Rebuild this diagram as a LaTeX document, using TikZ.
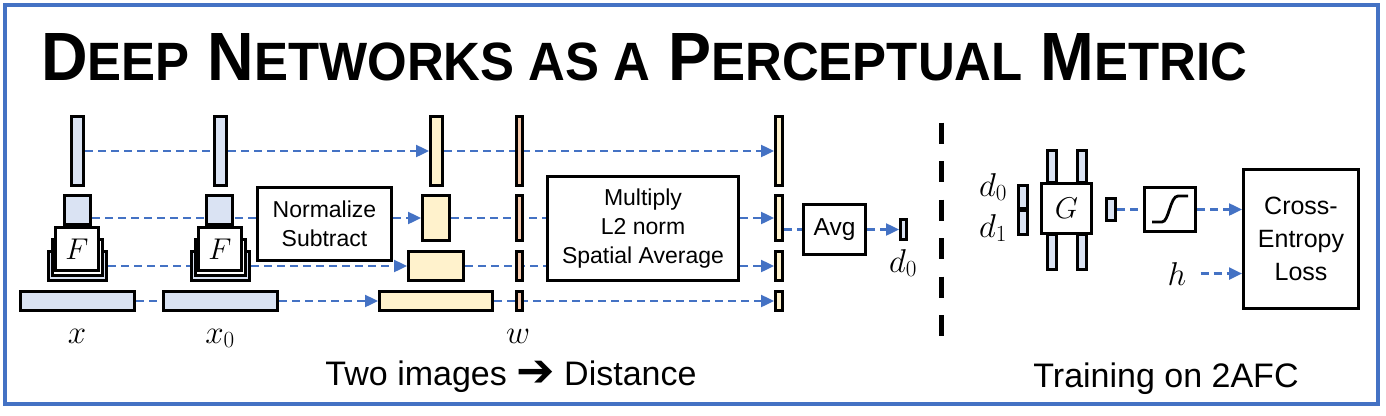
\RequirePackage{fix-cm}
\documentclass[tikz,border=0pt]{standalone}
\usepackage{graphicx}
\usepackage{fontspec}
\setmainfont{Liberation Sans}
\newfontfamily\dejavu{DejaVu Sans}
\usetikzlibrary{arrows.meta}
\pgfdeclarelayer{bg}
\pgfsetlayers{bg,main}
\definecolor{lblue}{HTML}{DAE3F3}
\definecolor{lyel}{HTML}{FFF2CC}
\definecolor{salmon}{HTML}{F8CBAD}
\definecolor{lineblue}{HTML}{4472C4}
\newcommand\mkbox[7]{\node[#6, minimum width={#4-#2-2.6}, minimum height={#5-#3-2.6}] (#1) at ({(#2+#4)/2},{(#3+#5)/2}) {#7};}
\newcommand\tsc[1]{{\fontsize{47.4}{48}\selectfont #1}}
\tikzset{
  blkbox/.style={draw=black, line width=2.6pt, inner sep=0pt},
  fb/.style={blkbox, fill=lblue},
  fy/.style={blkbox, fill=lyel},
  fs/.style={blkbox, fill=salmon},
  fw/.style={blkbox, fill=white},
  conn/.style={draw=lineblue, line width=2.4pt, dash pattern=on 8pt off 5pt},
  arr/.style={conn, -{Triangle[length=13pt,width=12pt]}},
  mlab/.style={font=\fontsize{33}{33}\selectfont, inner sep=0pt, anchor=base},
  boxtxt/.style={font=\fontsize{23}{28.5}\selectfont, align=center},
  captxt/.style={font=\fontsize{34}{38}\selectfont, inner sep=0pt, anchor=base},
}
\begin{document}
\begin{tikzpicture}[x=1pt,y=-1pt]
\useasboundingbox (0,0) rectangle (1386,415);
\draw[lineblue, line width=4pt] (4.5,4.5) rectangle (1378,404);
% title
\node[anchor=base west, inner sep=0pt] (title) at (41,80) {\resizebox{1206pt}{47pt}{\bfseries\fontsize{60}{60}\selectfont D\tsc{EEP} N\tsc{ETWORKS AS A} P\tsc{ERCEPTUAL} M\tsc{ETRIC}}};
% x column
\mkbox{xa}{70}{115}{85}{187}{fb}{}
\mkbox{xb}{63}{194}{92}{226}{fb}{}
\mkbox{xc}{47}{250}{108}{282}{fb}{}
\mkbox{xcm}{51}{238}{104}{277}{fw}{}
\mkbox{xF}{54}{226}{100}{272}{fw, font=\fontsize{30}{30}\selectfont}{$F$}
\mkbox{xd}{19}{290}{136}{312}{fb}{}
% x0 column
\mkbox{ya}{213}{115}{228}{187}{fb}{}
\mkbox{yb}{205}{194}{234}{226}{fb}{}
\mkbox{yc}{190}{250}{251}{282}{fb}{}
\mkbox{ycm}{194}{238}{247}{277}{fw}{}
\mkbox{yF}{197}{226}{243}{272}{fw, font=\fontsize{30}{30}\selectfont}{$F$}
\mkbox{yd}{162}{290}{279}{312}{fb}{}
% normalize
\mkbox{norm}{256}{186}{393}{262}{fw, boxtxt}{Normalize\\Subtract}
% features
\mkbox{f1}{429}{115}{444}{187}{fy}{}
\mkbox{f2}{421}{194}{451}{242}{fy}{}
\mkbox{f3}{407}{250}{465}{282}{fy}{}
\mkbox{f4}{378}{290}{494}{312}{fy}{}
% weights
\mkbox{w1}{515}{115}{524}{187}{fs}{}
\mkbox{w2}{515}{194}{524}{242}{fs}{}
\mkbox{w3}{515}{250}{524}{282}{fs}{}
\mkbox{w4}{515}{290}{524}{312}{fs}{}
% multiply
\mkbox{mult}{546}{175}{740}{282}{fw, font=\fontsize{23}{29}\selectfont, align=center}{Multiply\\L2 norm\\Spatial Average}
% results
\mkbox{r1}{774}{115}{784}{187}{fy}{}
\mkbox{r2}{774}{194}{784}{242}{fy}{}
\mkbox{r3}{774}{250}{784}{282}{fy}{}
\mkbox{r4}{774}{290}{784}{312}{fy}{}
\mkbox{avg}{802}{203}{867}{256}{fw, font=\fontsize{24.5}{28}\selectfont}{Avg}
\mkbox{dout}{899}{218}{908}{241}{fb}{}
% labels
\node[mlab] (lx) at (77,343) {$x$};
\node[mlab] (lx0) at (220,343) {$x_0$};
\node[mlab] (lw) at (518,343) {$w$};
\node[mlab] (ld) at (903,272) {$d_0$};
% separator
\draw[line width=5pt, dash pattern=on 21pt off 17.5pt] (941.5,122.5) -- (941.5,340);
% right part
\mkbox{dd0}{1017}{184}{1029}{210}{fb}{}
\mkbox{dd1}{1017}{209}{1029}{236}{fb}{}
\mkbox{gt1}{1046}{149}{1058}{184}{fb}{}
\mkbox{gt2}{1076}{149}{1088}{184}{fb}{}
\mkbox{gb1}{1046}{233}{1058}{271}{fb}{}
\mkbox{gb2}{1076}{233}{1088}{271}{fb}{}
\mkbox{g}{1040}{182}{1093}{235}{fw, font=\fontsize{30}{30}\selectfont}{$G$}
\mkbox{gout}{1105}{197}{1117}{222}{fb}{}
\mkbox{sig}{1143}{186}{1197}{233}{fw}{}
\draw[line width=2.8pt] (1152,222) -- (1162,222) .. controls (1169,222) and (1170,196) .. (1178,196) -- (1188,196);
\mkbox{loss}{1242}{168}{1360}{310}{fw, font=\fontsize{25}{33}\selectfont, align=center}{Cross-\\Entropy\\Loss}
\node[mlab] (ld0) at (993,196) {$d_0$};
\node[mlab] (ld1) at (993,237) {$d_1$};
\node[mlab] (h) at (1177,285) {$h$};
% captions
\node[captxt] (cap1) at (511,385) {Two images {\dejavu\bfseries\raisebox{-0.05em}{\scalebox{1.35}{➔}}} Distance};
\node[captxt] (cap2) at (1166,387) {Training on 2AFC};
% connectors
\begin{pgfonlayer}{bg}
\draw[arr] (xa.east) -- (f1.west);
\draw[arr] (f1.east) -- (r1.west);
\draw[conn] (xb.east |- f2.west) -- (norm.west |- f2.west);
\draw[arr] (norm.east |- f2.west) -- (f2.west);
\draw[conn] (f2.east) -- (mult.west |- f2.east);
\draw[arr] (mult.east |- r2.west) -- (r2.west);
\draw[arr] (xc.east) -- (f3.west);
\draw[conn] (f3.east) -- (mult.west |- f3.east);
\draw[arr] (mult.east |- r3.west) -- (r3.west);
\draw[arr] (xd.east) -- (f4.west);
\draw[arr] (f4.east) -- (r4.west);
\draw[conn] (r2.east |- avg.west) -- (avg.west);
\draw[arr] (avg.east) -- (dout.west);
\draw[conn] (gout.east) -- (sig.west);
\draw[arr] (sig.east) -- (loss.west |- sig.east);
\draw[arr] ([xshift=14pt]h.east) -- (loss.west |- h.east);
\end{pgfonlayer}
\end{tikzpicture}
\end{document}
